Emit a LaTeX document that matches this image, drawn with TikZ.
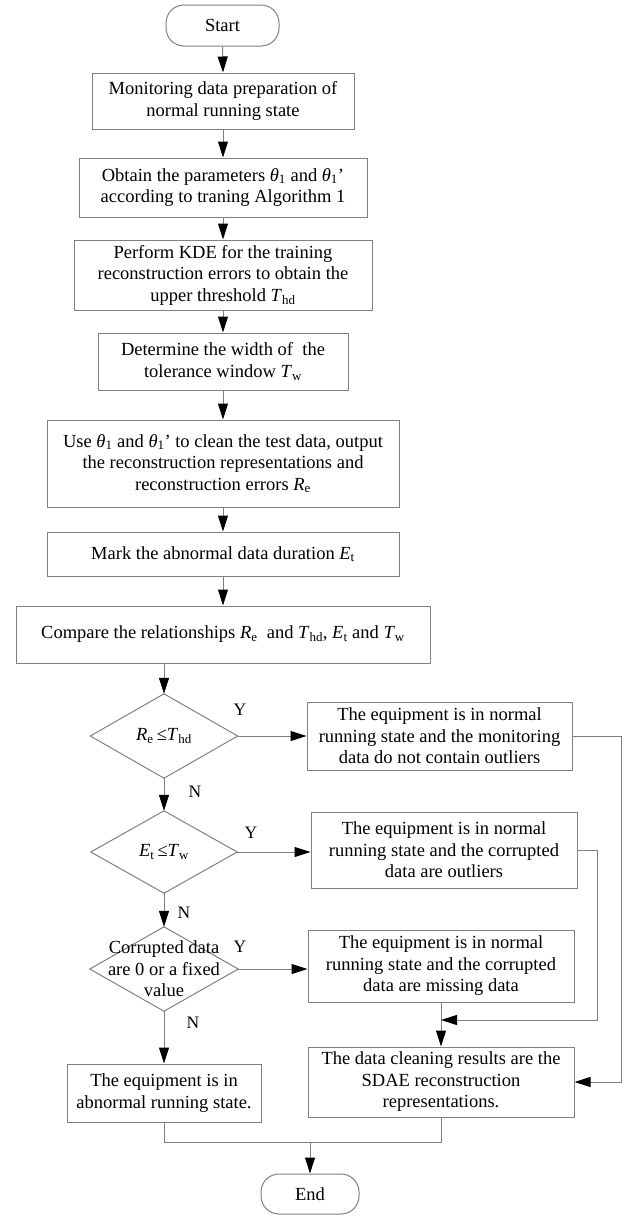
\documentclass[tikz,border=0pt]{standalone}
\usepackage{fontspec}
\setmainfont{Liberation Serif}
\usetikzlibrary{arrows.meta}
\definecolor{ln}{RGB}{128,128,128}
\newcommand{\mythI}{\textit{θ}\textsubscript{1}}
\newcommand{\myThd}{\textit{T}\textsubscript{hd}}
\newcommand{\myTw}{\textit{T}\textsubscript{w}}
\newcommand{\myRe}{\textit{R}\textsubscript{e}}
\newcommand{\myEt}{\textit{E}\textsubscript{t}}
\begin{document}
\begin{tikzpicture}[x=1pt,y=-1pt,font=\fontsize{18.5}{21.5}\selectfont,
  box/.style={draw=ln,line width=1pt,inner sep=0pt,align=center},
  term/.style={draw=ln,line width=1pt,inner sep=0pt,rounded corners=18pt},
  dmd/.style={inner sep=0pt},
  conn/.style={draw=ln,line width=1pt},
  arr/.style={conn,-{Triangle[length=16pt,width=10pt,color=black,fill=black]}},
  lbl/.style={inner sep=0pt,font=\fontsize{17.5}{20}\selectfont}]
\useasboundingbox (0,0) rectangle (625,1216);
% main column
\node[term,minimum width=113pt,minimum height=41pt] (start) at (222.5,25.5) {Start};
\node[box,minimum width=262pt,minimum height=56pt] (b1) at (223,101) {Monitoring data preparation of\\normal running state};
\node[box,minimum width=288pt,minimum height=59pt] (b2) at (223,187.5) {Obtain the parameters \mythI{} and \mythI’\\according to traning Algorithm 1};
\node[box,minimum width=298pt,minimum height=70pt] (b3) at (223,275) {Perform KDE for the training\\reconstruction errors to obtain the\\upper threshold \myThd};
\node[box,minimum width=250pt,minimum height=57pt] (b4) at (223,361.5) {Determine the width of\ \ the\\tolerance window \myTw};
\node[box,minimum width=352pt,minimum height=87pt] (b5) at (223,463.5) {Use \mythI{} and \mythI’ to clean the test data, output\\the reconstruction representations and\\reconstruction errors \myRe};
\node[box,minimum width=352pt,minimum height=44pt] (b6) at (223,554) {Mark the abnormal data duration \myEt};
\node[box,minimum width=414pt,minimum height=57pt] (b7) at (223,634.5) {Compare the relationships \myRe\ \ and \myThd, \myEt{} and \myTw};
% diamonds
\node[dmd,minimum width=147pt,minimum height=84pt] (d1) at (164,736) {};
\node[dmd,minimum width=146pt,minimum height=82pt] (d2) at (164,852) {};
\node[dmd,minimum width=148pt,minimum height=84pt] (d3) at (164,969) {};
\foreach \d in {d1,d2,d3}
  \draw[conn] (\d.north) -- (\d.east) -- (\d.south) -- (\d.west) -- cycle;
\node[align=center,inner sep=0pt] at (d1) {\myRe\,≤\myThd};
\node[align=center,inner sep=0pt] at (d2) {\myEt\,≤\myTw};
\node[align=center,inner sep=0pt] at (d3) {Corrupted data\\are 0 or a fixed\\value};
% right column
\node[box,minimum width=265pt,minimum height=68pt] (r1) at (439.5,736) {The equipment is in normal\\running state and the monitoring\\data do not contain outliers};
\node[box,minimum width=266pt,minimum height=76pt] (r2) at (444,850) {The equipment is in normal\\running state and the corrupted\\data are outliers};
\node[box,minimum width=266pt,minimum height=72pt] (r3) at (441,966) {The equipment is in normal\\running state and the corrupted\\data are missing data};
\node[box,minimum width=266pt,minimum height=70pt] (r4) at (441,1082) {The data cleaning results are the\\SDAE reconstruction\\representations.};
\node[box,minimum width=194pt,minimum height=58pt] (la) at (164,1093) {The equipment is in\\abnormal running state.};
\node[term,minimum width=98pt,minimum height=40pt] (end) at (310,1194) {End};
% coordinates
\coordinate (o1) at (621,0);
\coordinate (o2) at (597,0);
\coordinate (j) at (441,1020);
\coordinate (m) at (310,1142);
% connectors
\draw[arr] (start.south) -- (b1.north);
\draw[arr] (b1.south) -- (b2.north);
\draw[arr] (b2.south) -- (b3.north);
\draw[arr] (b3.south) -- (b4.north);
\draw[arr] (b4.south) -- (b5.north);
\draw[arr] (b5.south) -- (b6.north);
\draw[arr] (b6.south) -- (b7.north);
\draw[arr] (b7.south -| d1.north) -- (d1.north);
\draw[arr] (d1.east) -- (r1.west |- d1.east);
\draw[arr] (d1.south) -- (d2.north);
\draw[arr] (d2.east) -- (r2.west |- d2.east);
\draw[arr] (d2.south) -- (d3.north);
\draw[arr] (d3.east) -- (r3.west |- d3.east);
\draw[arr] (d3.south) -- (la.north);
\draw[arr] (r3.south) -- (r4.north);
\draw[arr] (r1.east) -| (o1 |- r4.east) -- (r4.east);
\draw[arr] (r2.east) -| (o2 |- j) -- (j);
\draw[conn] (la.south) |- (m);
\draw[conn] (r4.south) |- (m);
\draw[arr] (m) -- (end.north);
% labels
\node[lbl] at (240,710) {Y};
\node[lbl] at (251,833) {Y};
\node[lbl] at (240,947) {Y};
\node[lbl] at (195,792) {N};
\node[lbl] at (184,913) {N};
\node[lbl] at (193,1023) {N};
\end{tikzpicture}
\end{document}
